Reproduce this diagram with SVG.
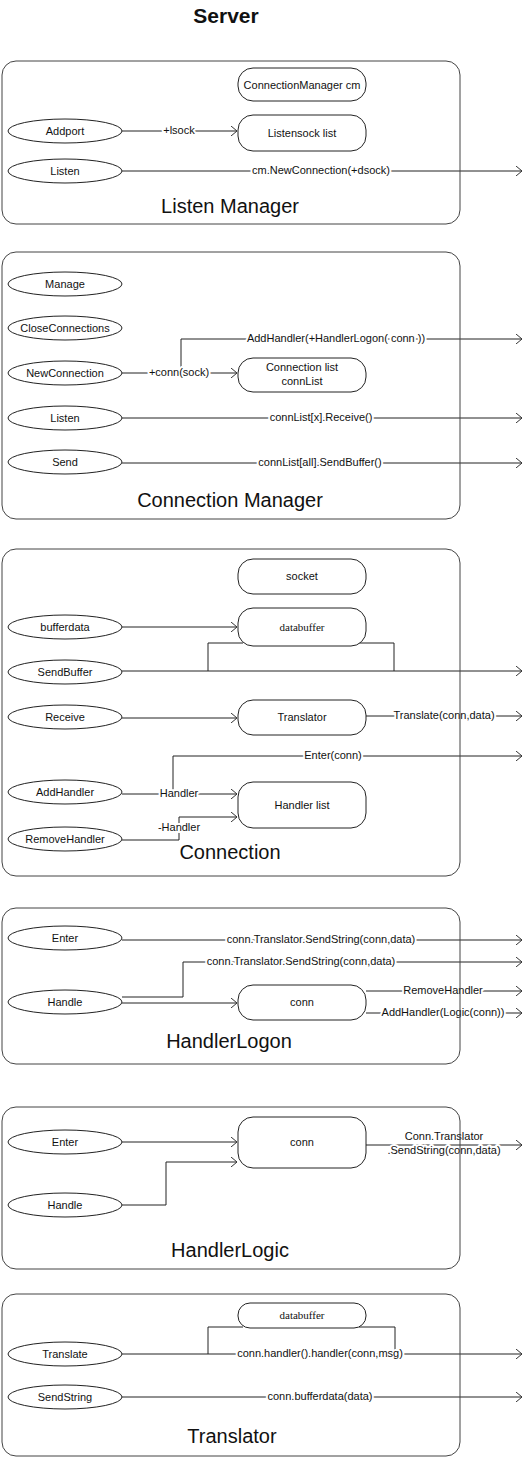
<svg xmlns="http://www.w3.org/2000/svg" width="524" height="1458" viewBox="0 0 524 1458">
<defs>
<marker id="arr" markerUnits="userSpaceOnUse" viewBox="0 0 7 10" refX="6" refY="5" markerWidth="7" markerHeight="10" orient="auto">
<path d="M0,0 L6,5 L0,10" fill="none" stroke="#333" stroke-width="1"/>
</marker>
<style>
text{font-family:"Liberation Sans",Arial,sans-serif;fill:#111;text-anchor:middle}
.t{font-size:11px}
.s{font-family:"Liberation Serif","Times New Roman",serif;font-size:11px}
.big{font-size:20px}
.title{font-size:21px;font-weight:bold}
.lbl{font-size:11px;paint-order:stroke;stroke:#fff;stroke-width:4px;stroke-linejoin:round}
.ct{fill:none;stroke:#444;stroke-width:1}
.box{fill:#fff;stroke:#222;stroke-width:1}
.el{fill:#fff;stroke:#222;stroke-width:1}
.c{fill:none;stroke:#222;stroke-width:1}
.a{marker-end:url(#arr)}
</style>
</defs>
<rect width="524" height="1458" fill="#fff"/>
<text class="title" x="226" y="23">Server</text>

<g id="connectors">
<!-- Listen Manager -->
<path class="c a" d="M122,131 H237"/>
<text class="lbl" x="179" y="134">+lsock</text>
<path class="c a" d="M122,171 H522"/>
<text class="lbl" x="321" y="174">cm.NewConnection(+dsock)</text>
<!-- Connection Manager -->
<path class="c a" d="M181,373 V339 H522"/>
<text class="lbl" x="336" y="342">AddHandler(+HandlerLogon( conn ))</text>
<path class="c a" d="M122,373 H237"/>
<text class="lbl" x="179" y="376">+conn(sock)</text>
<path class="c a" d="M122,418 H522"/>
<text class="lbl" x="321" y="421">connList[x].Receive()</text>
<path class="c a" d="M122,463 H522"/>
<text class="lbl" x="320" y="466">connList[all].SendBuffer()</text>
<!-- Connection -->
<path class="c a" d="M122,627 H237"/>
<path class="c a" d="M122,671 H522"/>
<path class="c" d="M243,643 H208 V671 M359,643 H394 V671"/>
<path class="c a" d="M122,718 H237"/>
<path class="c a" d="M366,716 H522"/>
<text class="lbl" x="444" y="719">Translate(conn,data)</text>
<path class="c a" d="M173,794 V756 H522"/>
<text class="lbl" x="333" y="759">Enter(conn)</text>
<path class="c a" d="M122,794 H237"/>
<text class="lbl" x="179" y="797">Handler</text>
<path class="c a" d="M122,840 H179 V817 H237"/>
<text class="lbl" x="179" y="831">-Handler</text>
<!-- HandlerLogon -->
<path class="c a" d="M122,940 H522"/>
<text class="lbl" x="321" y="943">conn.Translator.SendString(conn,data)</text>
<path class="c a" d="M122,997 H183 V962 H522"/>
<text class="lbl" x="301" y="965">conn.Translator.SendString(conn,data)</text>
<path class="c a" d="M122,1003 H237"/>
<path class="c a" d="M366,991 H522"/>
<text class="lbl" x="443" y="994">RemoveHandler</text>
<path class="c a" d="M366,1013 H522"/>
<text class="lbl" x="443" y="1016">AddHandler(Logic(conn))</text>
<!-- HandlerLogic -->
<path class="c a" d="M122,1142 H237"/>
<path class="c a" d="M122,1205 H166 V1162 H237"/>
<path class="c a" d="M366,1145 H522"/>
<text class="lbl" x="444" y="1140">Conn.Translator</text>
<text class="lbl" x="444" y="1154">.SendString(conn,data)</text>
<!-- Translator -->
<path class="c a" d="M122,1354 H522"/>
<path class="c" d="M243,1327 H208 V1354 M359,1327 H395 V1354"/>
<text class="lbl" x="320" y="1357">conn.handler().handler(conn,msg)</text>
<path class="c a" d="M122,1397 H522"/>
<text class="lbl" x="320" y="1400">conn.bufferdata(data)</text>
</g>

<g id="listen-manager">
<rect class="ct" x="2" y="61" width="458" height="163" rx="14"/>
<text class="big" x="230" y="213">Listen Manager</text>
</g>
<g id="lm-cm"><rect class="box" x="238" y="68" width="128" height="33" rx="15"/><text class="t" x="302" y="89">ConnectionManager cm</text></g>
<g id="lm-listensock"><rect class="box" x="238" y="115" width="128" height="36" rx="15"/><text class="t" x="302" y="137">Listensock list</text></g>
<g id="lm-addport"><ellipse class="el" cx="65" cy="131" rx="57" ry="12"/><text class="t" x="65" y="135">Addport</text></g>
<g id="lm-listen"><ellipse class="el" cx="65" cy="171" rx="57" ry="12"/><text class="t" x="65" y="175">Listen</text></g>

<g id="connection-manager">
<rect class="ct" x="2" y="252" width="458" height="267" rx="14"/>
<text class="big" x="230" y="507">Connection Manager</text>
</g>
<g id="cm-manage"><ellipse class="el" cx="65" cy="284" rx="57" ry="12"/><text class="t" x="65" y="288">Manage</text></g>
<g id="cm-close"><ellipse class="el" cx="65" cy="328" rx="57" ry="12"/><text class="t" x="65" y="332">CloseConnections</text></g>
<g id="cm-new"><ellipse class="el" cx="65" cy="373" rx="57" ry="12"/><text class="t" x="65" y="377">NewConnection</text></g>
<g id="cm-listen"><ellipse class="el" cx="65" cy="418" rx="57" ry="12"/><text class="t" x="65" y="422">Listen</text></g>
<g id="cm-send"><ellipse class="el" cx="65" cy="462" rx="57" ry="12"/><text class="t" x="65" y="466">Send</text></g>
<g id="cm-connlist"><rect class="box" x="238" y="358" width="128" height="34" rx="15"/><text class="t" x="302" y="371">Connection list</text><text class="t" x="302" y="385">connList</text></g>

<g id="connection">
<rect class="ct" x="2" y="549" width="458" height="327" rx="14"/>
<text class="big" x="230" y="859">Connection</text>
</g>
<g id="c-socket"><rect class="box" x="238" y="559" width="128" height="35" rx="15"/><text class="t" x="302" y="580">socket</text></g>
<g id="c-databuffer"><rect class="box" x="238" y="608" width="128" height="38" rx="15"/><text class="s" x="302" y="631">databuffer</text></g>
<g id="c-translator"><rect class="box" x="238" y="700" width="128" height="35" rx="15"/><text class="t" x="302" y="721">Translator</text></g>
<g id="c-handlerlist"><rect class="box" x="238" y="782" width="128" height="46" rx="15"/><text class="t" x="302" y="809">Handler list</text></g>
<g id="c-bufferdata"><ellipse class="el" cx="65" cy="627" rx="57" ry="12"/><text class="t" x="65" y="631">bufferdata</text></g>
<g id="c-sendbuffer"><ellipse class="el" cx="65" cy="672" rx="57" ry="12"/><text class="t" x="65" y="676">SendBuffer</text></g>
<g id="c-receive"><ellipse class="el" cx="65" cy="717" rx="57" ry="12"/><text class="t" x="65" y="721">Receive</text></g>
<g id="c-addhandler"><ellipse class="el" cx="65" cy="792" rx="57" ry="12"/><text class="t" x="65" y="796">AddHandler</text></g>
<g id="c-removehandler"><ellipse class="el" cx="65" cy="839" rx="57" ry="12"/><text class="t" x="65" y="843">RemoveHandler</text></g>

<g id="handlerlogon">
<rect class="ct" x="2" y="908" width="458" height="156" rx="14"/>
<text class="big" x="229" y="1048">HandlerLogon</text>
</g>
<g id="hl-enter"><ellipse class="el" cx="65" cy="938" rx="57" ry="12"/><text class="t" x="65" y="942">Enter</text></g>
<g id="hl-handle"><ellipse class="el" cx="65" cy="1002" rx="57" ry="12"/><text class="t" x="65" y="1006">Handle</text></g>
<g id="hl-conn"><rect class="box" x="238" y="985" width="128" height="35" rx="15"/><text class="t" x="302" y="1006">conn</text></g>

<g id="handlerlogic">
<rect class="ct" x="2" y="1107" width="458" height="162" rx="14"/>
<text class="big" x="230" y="1257">HandlerLogic</text>
</g>
<g id="hg-enter"><ellipse class="el" cx="65" cy="1142" rx="57" ry="12"/><text class="t" x="65" y="1146">Enter</text></g>
<g id="hg-handle"><ellipse class="el" cx="65" cy="1205" rx="57" ry="12"/><text class="t" x="65" y="1209">Handle</text></g>
<g id="hg-conn"><rect class="box" x="238" y="1117" width="128" height="51" rx="15"/><text class="t" x="302" y="1146">conn</text></g>

<g id="translator">
<rect class="ct" x="2" y="1294" width="458" height="162" rx="14"/>
<text class="big" x="232" y="1443">Translator</text>
</g>
<g id="t-databuffer"><rect class="box" x="238" y="1303" width="128" height="25" rx="12"/><text class="s" x="302" y="1319">databuffer</text></g>
<g id="t-translate"><ellipse class="el" cx="65" cy="1354" rx="57" ry="12"/><text class="t" x="65" y="1358">Translate</text></g>
<g id="t-sendstring"><ellipse class="el" cx="65" cy="1397" rx="57" ry="12"/><text class="t" x="65" y="1401">SendString</text></g>
</svg>
